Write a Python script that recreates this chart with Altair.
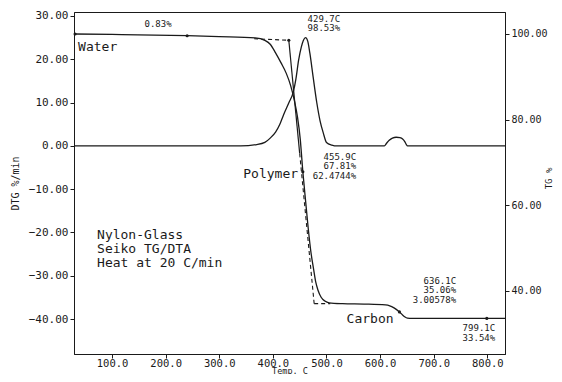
import altair as alt
import pandas as pd

# ---- data ----
dtg_temp = [29, 100, 200, 300, 340, 370, 385, 395, 405, 413, 420, 430, 438, 443, 448, 453,
            457, 461, 465, 469, 475, 482, 488, 494, 500, 510, 520, 560, 608, 612, 617, 623,
            630, 637, 642, 646, 649, 651, 700, 760, 833]
dtg_val = [0, 0, 0, 0, 0, 0.3, 0.8, 1.8, 3.2, 5.0, 7.2, 10.0, 12.4, 15.5, 19.8, 22.8,
           24.4, 25.0, 24.2, 21.4, 16.0, 9.9, 5.8, 3.0, 0.8, 0.2, 0, 0, 0, 0.6, 1.3, 1.8,
           2.0, 1.9, 1.6, 1.0, 0.3, 0, 0, 0, 0]

tg_temp = [29, 100, 240, 300, 367, 385, 395, 405, 415, 425, 433, 440, 446, 451, 455.9, 461,
           466, 471, 476, 480, 484, 490, 497, 505, 530, 570, 610, 618, 626, 636.1, 645, 651,
           660, 700, 799.1, 833]
tg_val = [100.0, 99.9, 99.6, 99.4, 99.1, 98.5, 97.6, 95.6, 93.3, 90.8, 88.0, 84.5, 80.5,
          75.5, 67.81, 61.0, 54.5, 49.0, 45.0, 42.0, 40.2, 38.5, 37.6, 37.2, 37.0, 36.9,
          36.7, 36.5, 36.0, 35.06, 34.0, 33.6, 33.55, 33.54, 33.54, 33.54]

mark_temp = [31, 240, 429.7, 455.9, 636.1, 799.1]
mark_val = [100.0, 99.6, 98.53, 67.81, 35.06, 33.54]

solid_t = [429.7, 450]
solid_v = [98.53, 72.1]
dash_t = [365, 429.7, 450, 477, 477, 507]
dash_v = [98.9, 98.53, 72.1, 37.0, 37.0, 37.0]
dash_seg = ["a", "a", "b", "b", "c", "c"]

big_left_text = ["Water", "Nylon-Glass", "Seiko TG/DTA", "Heat at 20 C/min"]
big_left_t = [36.6, 72.0, 72.0, 72.0]
big_left_v = [22.84, -20.58, -23.81, -27.04]

big_right_text = ["Polymer"]
big_right_t = [447.0]
big_right_v = [-6.49]

big_center_text = ["Carbon"]
big_center_t = [581.3]
big_center_v = [-39.98]

small_center_text = ["0.83%", "429.7C", "98.53%"]
small_center_t = [185.8, 495.0, 495.0]
small_center_v = [28.15, 29.31, 27.23]

small_right_text = ["455.9C", "67.81%", "62.4744%", "636.1C", "35.06%", "3.00578%",
                    "799.1C", "33.54%"]
small_right_t = [555.2, 555.2, 555.2, 741.8, 741.8, 741.8, 814.6, 814.6]
small_right_v = [-2.56, -4.75, -6.95, -31.2, -33.28, -35.59, -42.06, -44.37]

x_ticks = [100, 200, 300, 400, 500, 600, 700, 800]
dtg_ticks = [-40, -30, -20, -10, 0, 10, 20, 30]
tg_ticks = [40, 60, 80, 100]
x_title = "Temp. C"

FONT = "DejaVu Sans Mono"
INK = "#1a1a1a"
W, H = 431, 342

x_scale = alt.Scale(domain=[29, 833], nice=False, zero=False)
dtg_scale = alt.Scale(domain=[-48.06, 30.92], nice=False, zero=False)
tg_scale = alt.Scale(domain=[25.23, 105.14], nice=False, zero=False)


def x_enc():
    return alt.X("t:Q", scale=x_scale, title=x_title,
                 axis=alt.Axis(values=x_ticks, format=".1f", title=x_title, tickSize=4,
                               labelPadding=0, labelFontSize=10.5, grid=False,
                               titleFontSize=8.5, titleX=W / 2, titleY=19,
                               titleAlign="center", titleBaseline="alphabetic"))


dtg_df = pd.DataFrame({"t": dtg_temp, "v": dtg_val})
tg_df = pd.DataFrame({"t": tg_temp, "v": tg_val})

dtg_line = alt.Chart(dtg_df).mark_line(color=INK, strokeWidth=1.3, interpolate="monotone").encode(
    x=x_enc(),
    y=alt.Y("v:Q", scale=dtg_scale,
            axis=alt.Axis(orient="left", values=dtg_ticks, format=".2f", title="DTG %/min",
                          tickSize=4, labelPadding=2, titlePadding=8, grid=False)),
)

tg_line = alt.Chart(tg_df).mark_line(color=INK, strokeWidth=1.3, interpolate="monotone").encode(
    x=x_enc(),
    y=alt.Y("v:Q", scale=tg_scale,
            axis=alt.Axis(orient="right", values=tg_ticks, format=".2f", title="TG %",
                          tickSize=4, labelPadding=2, labelFontSize=10, grid=False,
                          titleAngle=-90, titleX=43, titleY=H / 2 - 5,
                          titleAlign="center", titleBaseline="middle", titleFontSize=9)),
)

tg_marks = alt.Chart(pd.DataFrame({"t": mark_temp, "v": mark_val})).mark_point(
    filled=True, color=INK, size=10, opacity=1).encode(
    x=x_enc(), y=alt.Y("v:Q", scale=tg_scale, axis=None))

tan_solid = alt.Chart(pd.DataFrame({"t": solid_t, "v": solid_v})).mark_line(
    color=INK, strokeWidth=1.2).encode(
    x=x_enc(), y=alt.Y("v:Q", scale=tg_scale, axis=None))

tan_dash = alt.Chart(pd.DataFrame({"t": dash_t, "v": dash_v, "s": dash_seg})).mark_line(
    color=INK, strokeWidth=1.1, strokeDash=[4, 3]).encode(
    x=x_enc(), y=alt.Y("v:Q", scale=tg_scale, axis=None), detail="s:N")


def text_layer(texts, ts, vs, align, size):
    df = pd.DataFrame({"t": ts, "v": vs, "label": texts})
    return alt.Chart(df).mark_text(align=align, baseline="middle", font=FONT,
                                   fontSize=size, color=INK).encode(
        x=x_enc(), y=alt.Y("v:Q", scale=dtg_scale, axis=None), text="label:N")


texts = [
    text_layer(big_left_text, big_left_t, big_left_v, "left", 13),
    text_layer(big_right_text, big_right_t, big_right_v, "right", 13),
    text_layer(big_center_text, big_center_t, big_center_v, "center", 13),
    text_layer(small_center_text, small_center_t, small_center_v, "center", 9),
    text_layer(small_right_text, small_right_t, small_right_v, "right", 9),
]

chart = alt.layer(dtg_line, tg_line, tg_marks, tan_solid, tan_dash, *texts).resolve_scale(
    y="independent"
).properties(
    width=W, height=H,
    autosize=alt.AutoSizeParams(type="none"),
    padding={"left": 66, "top": 4, "right": 48, "bottom": 20},
).configure_view(
    stroke=INK, strokeWidth=1
).configure_axis(
    labelFont=FONT, titleFont=FONT, labelFontSize=11, titleFontSize=10,
    labelColor=INK, titleColor=INK, domainColor=INK, tickColor=INK,
    titleFontWeight="normal", domainWidth=1,
)

chart.save("out.html", embed_options={"renderer": "svg", "actions": False})
